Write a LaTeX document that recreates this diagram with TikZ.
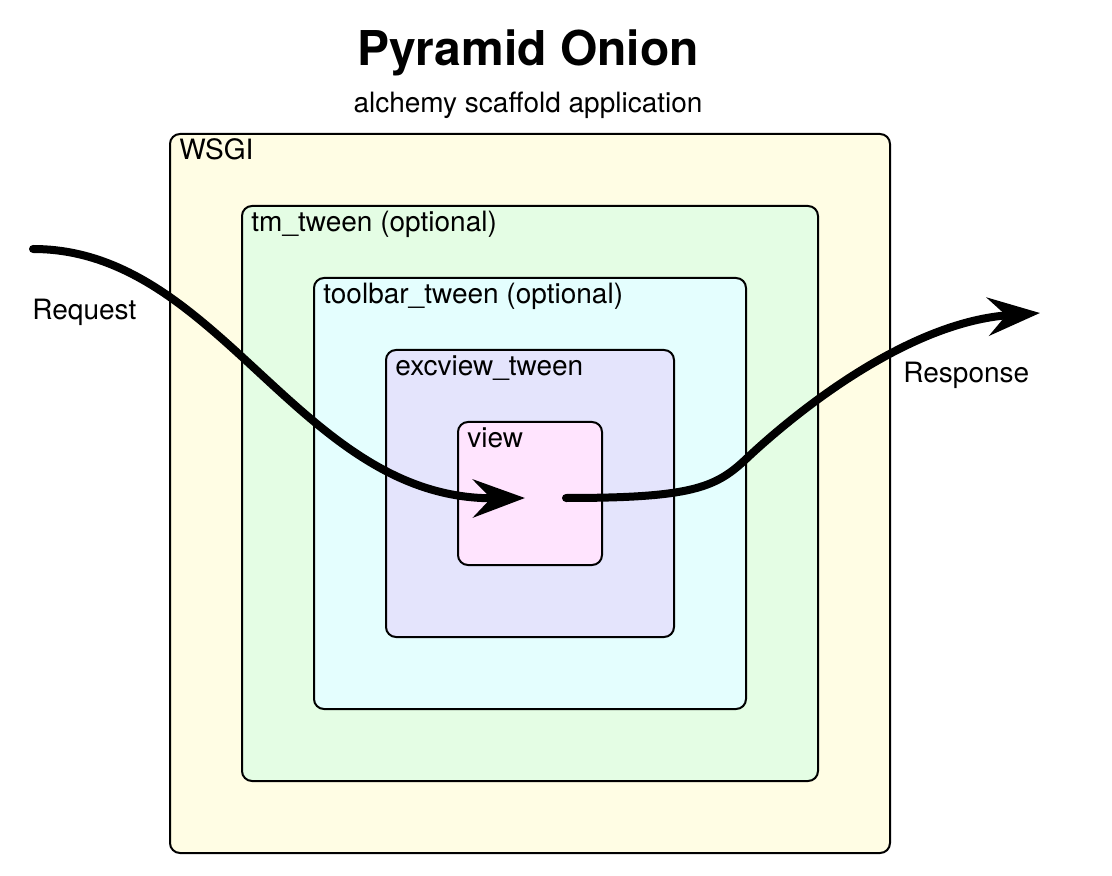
\documentclass[tikz,border=0pt]{standalone}
\usepackage{fontspec}
\setmainfont{TeX Gyre Heros}
\usetikzlibrary{arrows.meta}
\definecolor{wsgicol}{RGB}{255,253,228}
\definecolor{tmcol}{RGB}{228,253,228}
\definecolor{toolbarcol}{RGB}{228,254,254}
\definecolor{exccol}{RGB}{228,228,252}
\definecolor{viewcol}{RGB}{255,228,254}
\tikzstyle{layer}=[draw,line width=1pt,rounded corners=5pt,inner sep=0pt]
\tikzstyle{layertext}=[anchor=base west,inner sep=0pt,font=\fontsize{14}{17}\selectfont]
\tikzstyle{flow}=[line width=4pt,line cap=round,-{Stealth[length=26pt,width=19pt,inset=9pt]}]

\begin{document}
\begin{tikzpicture}[x=0.5pt,y=-0.5pt]
\useasboundingbox (0,0) rectangle (1112,876);
% title
\node [anchor=base,inner sep=0pt,font=\fontsize{24}{29}\selectfont\bfseries] (title) at (528,66) {Pyramid Onion};
\node [anchor=base,inner sep=0pt,font=\fontsize{14}{17}\selectfont] (subtitle) at (528,113) {alchemy scaffold application};
% the layers, outermost first
\node [layer,fill=wsgicol,minimum width=360pt,minimum height=359.5pt] (wsgi) at (530,493.5) {};
\node [layer,fill=tmcol,minimum width=288pt,minimum height=287.5pt] (tm) at (530,493.5) {};
\node [layer,fill=toolbarcol,minimum width=216pt,minimum height=215.5pt] (toolbar) at (530,493.5) {};
\node [layer,fill=exccol,minimum width=144pt,minimum height=143.5pt] (excview) at (530,493.5) {};
\node [layer,fill=viewcol,minimum width=72pt,minimum height=71.5pt] (view) at (530,493.5) {};
\node [layertext] (wsgilbl) at ([shift={(10,27)}]wsgi.north west) {WSGI};
\node [layertext] (tmlbl) at ([shift={(10,27)}]tm.north west) {tm\_tween (optional)};
\node [layertext] (toolbarlbl) at ([shift={(10,27)}]toolbar.north west) {toolbar\_tween (optional)};
\node [layertext] (exclbl) at ([shift={(10,27)}]excview.north west) {excview\_tween};
\node [layertext] (viewlbl) at ([shift={(10,27)}]view.north west) {view};
% request / response
\node [layertext] (request) at (32,320) {Request};
\node [layertext] (response) at (903,383) {Response};
\coordinate (reqstart) at (33,249);
\coordinate (viewin) at (525,498);
\coordinate (viewout) at (566,498);
\coordinate (bend) at (745,460);
\coordinate (respend) at (1040,313);
\draw [flow] (reqstart) .. controls (220,249) and (300,500) .. (viewin);
\draw [flow] (viewout) .. controls (690,498) and (715,488) .. (bend)
  .. controls (800,408) and (910,322) .. (respend);
\end{tikzpicture}
\end{document}
